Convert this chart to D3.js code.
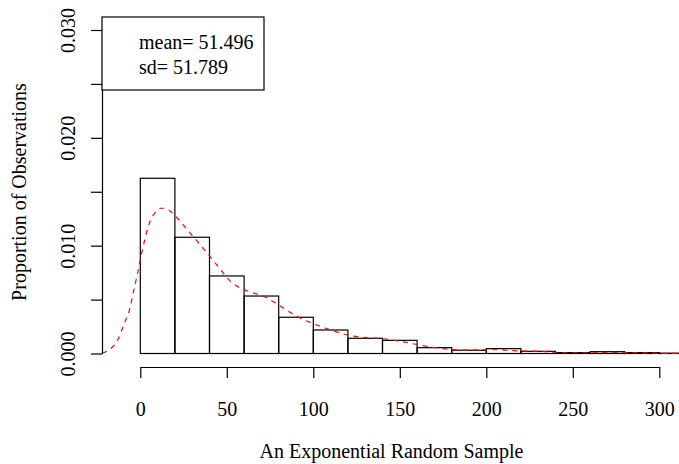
<!DOCTYPE html>
<html>
<head>
<meta charset="utf-8">
<script src="https://cdn.jsdelivr.net/npm/d3@7"></script>
<style>
  html, body { margin: 0; padding: 0; background: #fff; }
  svg { display: block; }
  text { font-family: "Liberation Serif", "Times New Roman", serif; font-size: 20px; fill: #000; }
</style>
</head>
<body>
<svg id="chart" width="679" height="464"></svg>
<script>
// ---- data ----
const binStarts = [0, 20, 40, 60, 80, 100, 120, 140, 160, 180, 200, 220, 240, 260, 280, 300];
const binWidth = 20;
const binDensity = [0.01625, 0.01078, 0.00719, 0.00533, 0.00336, 0.00218, 0.00141, 0.00122,
                    0.00054, 0.00030, 0.00045, 0.00020, 0.00008, 0.00017, 0.00008, 0.00003];

const densX = [-22, -19.2, -13.1, -9.2, -6.3, -3.5, -1.6, 0.4, 2.3, 5.2, 9.1, 11.9, 14.8, 17.7, 21.5,
               27.3, 33.1, 38.8, 42.7, 46.6, 52.3, 58.1, 64.8, 72.5, 78.3, 86.0, 92.7, 99.4, 107.2,
               114.8, 121.6, 130.2, 137.9, 145.6, 153.3, 161.0, 168.7, 176.4, 184.1, 191.8, 199.5,
               207.2, 214.8, 230.2, 245.6, 261.0, 268.7, 284.1, 299.5, 309.1, 320];
const densY = [0.00002, 0.00023, 0.00125, 0.0028, 0.00403, 0.00605, 0.00744, 0.00898, 0.01037, 0.01207,
               0.01315, 0.01347, 0.01347, 0.01315, 0.01254, 0.01145, 0.01037, 0.00929, 0.00851, 0.00774,
               0.00666, 0.00605, 0.00564, 0.00521, 0.00466, 0.00388, 0.00326, 0.0028, 0.00234, 0.00193,
               0.00165, 0.00147, 0.00141, 0.00125, 0.00104, 0.00079, 0.00058, 0.00042, 0.00032, 0.00032,
               0.00035, 0.00035, 0.00026, 0.0002, 0.00007, 0.00007, 0.00011, 0.00007, 0.00002, 0.00001, 0.00001];

const xTicks = [0, 50, 100, 150, 200, 250, 300];
const yTicks = [0, 0.005, 0.010, 0.015, 0.020, 0.025, 0.030];
const yTickLabels = ["0.000", "", "0.010", "", "0.020", "", "0.030"];

const legendLines = ["mean= 51.496", "sd= 51.789"];
const xTitle = "An Exponential Random Sample";
const yTitle = "Proportion of Observations";

// ---- layout ----
const plotLeft = 102, plotRight = 681, plotTop = 17, plotBottom = 367;
const x = d3.scaleLinear().domain([0, 300]).range([140.3, 659.3]);
const y = d3.scaleLinear().domain([0, 0.03]).range([353.5, 30]);

const svg = d3.select("#chart");

// bars
svg.append("g").selectAll("rect")
  .data(binStarts.map((s, i) => ({ s, d: binDensity[i] })))
  .join("rect")
  .attr("x", d => x(d.s))
  .attr("y", d => y(d.d))
  .attr("width", d => x(d.s + binWidth) - x(d.s))
  .attr("height", d => y(0) - y(d.d))
  .attr("fill", "none")
  .attr("stroke", "#000")
  .attr("stroke-width", 1.2);

// density curve
const line = d3.line().x((d, i) => x(densX[i])).y((d, i) => y(densY[i])).curve(d3.curveMonotoneX);
svg.append("path")
  .attr("d", line(densX))
  .attr("fill", "none")
  .attr("stroke", "#ff0000")
  .attr("stroke-width", 1.2)
  .attr("stroke-dasharray", "5,5");

// x axis
const xAxisScale = x.copy();
const xAxis = d3.axisBottom(xAxisScale).tickValues(xTicks).tickSize(11).tickSizeOuter(0).tickPadding(24)
  .tickFormat(d3.format("d"));
const gx = svg.append("g").attr("transform", `translate(0,${plotBottom})`).call(xAxis);
gx.select(".domain").attr("stroke", "#000").attr("stroke-width", 1.2);
gx.selectAll(".tick line").attr("stroke", "#000").attr("stroke-width", 1.2);
gx.selectAll(".tick text").attr("font-family", null).attr("font-size", null)
  .style("font-family", '"Liberation Serif", serif').style("font-size", "20px");

// y axis
const yAxis = d3.axisLeft(y).tickValues(yTicks).tickSize(11).tickSizeOuter(0).tickPadding(16)
  .tickFormat((d, i) => yTickLabels[i]);
const gy = svg.append("g").attr("transform", `translate(${plotLeft},0)`).call(yAxis);
gy.select(".domain").attr("stroke", "#000").attr("stroke-width", 1.2);
gy.selectAll(".tick line").attr("stroke", "#000").attr("stroke-width", 1.2);
gy.selectAll(".tick text")
  .attr("font-family", null).attr("font-size", null)
  .style("font-family", '"Liberation Serif", serif').style("font-size", "20px")
  .attr("x", null).attr("dy", null)
  .attr("text-anchor", "middle")
  .attr("transform", "translate(-27,0) rotate(-90)");

// titles
svg.append("text")
  .attr("x", (plotLeft + plotRight) / 2).attr("y", 458)
  .attr("text-anchor", "middle")
  .text(xTitle);
svg.append("text")
  .attr("transform", `translate(26,${(plotTop + plotBottom) / 2}) rotate(-90)`)
  .attr("text-anchor", "middle")
  .text(yTitle);

// legend
svg.append("rect")
  .attr("x", plotLeft).attr("y", plotTop).attr("width", 162).attr("height", 73)
  .attr("fill", "#fff").attr("stroke", "#000").attr("stroke-width", 1.2);
svg.append("g").selectAll("text")
  .data(legendLines)
  .join("text")
  .attr("x", 139)
  .attr("y", (d, i) => 49 + i * 25)
  .text(d => d);
</script>
</body>
</html>
